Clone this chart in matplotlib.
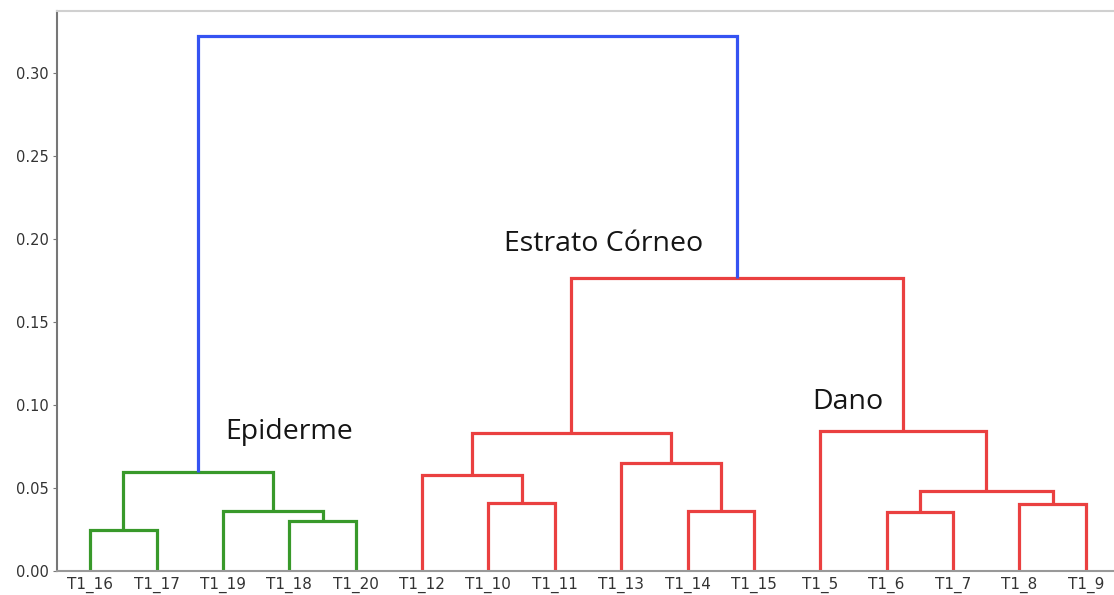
import matplotlib
matplotlib.use("Agg")
import matplotlib.pyplot as plt

# ── Dendrogram data (leaves in plotting order, merges like a linkage table) ──
leaf_labels = ["T1_16", "T1_17", "T1_19", "T1_18", "T1_20",
               "T1_12", "T1_10", "T1_11", "T1_13", "T1_14", "T1_15",
               "T1_5", "T1_6", "T1_7", "T1_8", "T1_9"]

# node ids 0..15 are leaves, each merge creates node 16, 17, ...
merge_left   = [0, 3, 2, 16, 6, 5, 9, 8, 21, 12, 14, 25, 11, 24, 19]
merge_right  = [1, 4, 17, 18, 7, 20, 10, 22, 23, 13, 15, 26, 27, 28, 29]
merge_height = [0.0247, 0.0302, 0.0363, 0.0596,
                0.0411, 0.0580, 0.0360, 0.0652, 0.0833,
                0.0355, 0.0402, 0.0480, 0.0845, 0.1765,
                0.3223]
merge_group  = ["green"] * 4 + ["red"] * 10 + ["blue"]

group_colors = {"green": "#38992a", "red": "#ea4040", "blue": "#3553f2"}

annotations = [("Epiderme", 25.3, 0.084),
               ("Estrato Córneo", 67.4, 0.197),
               ("Dano", 113.8, 0.102)]

# ── Figure ──────────────────────────────────────────────────────────────────
fig = plt.figure(figsize=(11.14, 5.95), dpi=100)
ax = fig.add_axes([57 / 1114, 24 / 595, (1119 - 57) / 1114, (571 - 11) / 595])

# x position / height of every node
xpos = {i: 5 + 10 * i for i in range(len(leaf_labels))}
ypos = {i: 0.0 for i in range(len(leaf_labels))}

for k, (a, b, h, g) in enumerate(zip(merge_left, merge_right, merge_height, merge_group)):
    node = len(leaf_labels) + k
    xa, xb = xpos[a], xpos[b]
    ax.plot([xa, xa, xb, xb], [ypos[a], h, h, ypos[b]],
            color=group_colors[g], lw=2.3, solid_joinstyle="miter",
            solid_capstyle="butt")
    xpos[node] = (xa + xb) / 2
    ypos[node] = h

for txt, x, y in annotations:
    ax.text(x, y, txt, fontsize=20.5, family="Open Sans", color="#151515",
            ha="left", va="center")

ax.set_xlim(0, 10 * len(leaf_labels))
ax.set_ylim(0, 0.3373)
ax.set_xticks([xpos[i] for i in range(len(leaf_labels))])
ax.set_xticklabels(leaf_labels, family="DejaVu Sans")
ax.set_yticks([0, 0.05, 0.10, 0.15, 0.20, 0.25, 0.30])
ax.set_yticklabels([f"{v:.2f}" for v in ax.get_yticks()], family="DejaVu Sans")

ax.tick_params(axis="x", length=0, pad=4, labelsize=11, labelcolor="#333333")
ax.tick_params(axis="y", length=3, width=0.8, color="#777777",
               labelsize=10.5, labelcolor="#333333", pad=3)

ax.spines["left"].set_color("#777777")
ax.spines["left"].set_linewidth(1.5)
ax.spines["bottom"].set_color("#999999")
ax.spines["bottom"].set_linewidth(1.5)
ax.spines["top"].set_color("#d0d0d0")
ax.spines["top"].set_linewidth(1.5)
ax.spines["right"].set_visible(False)

fig.savefig("out.png", dpi=100)
